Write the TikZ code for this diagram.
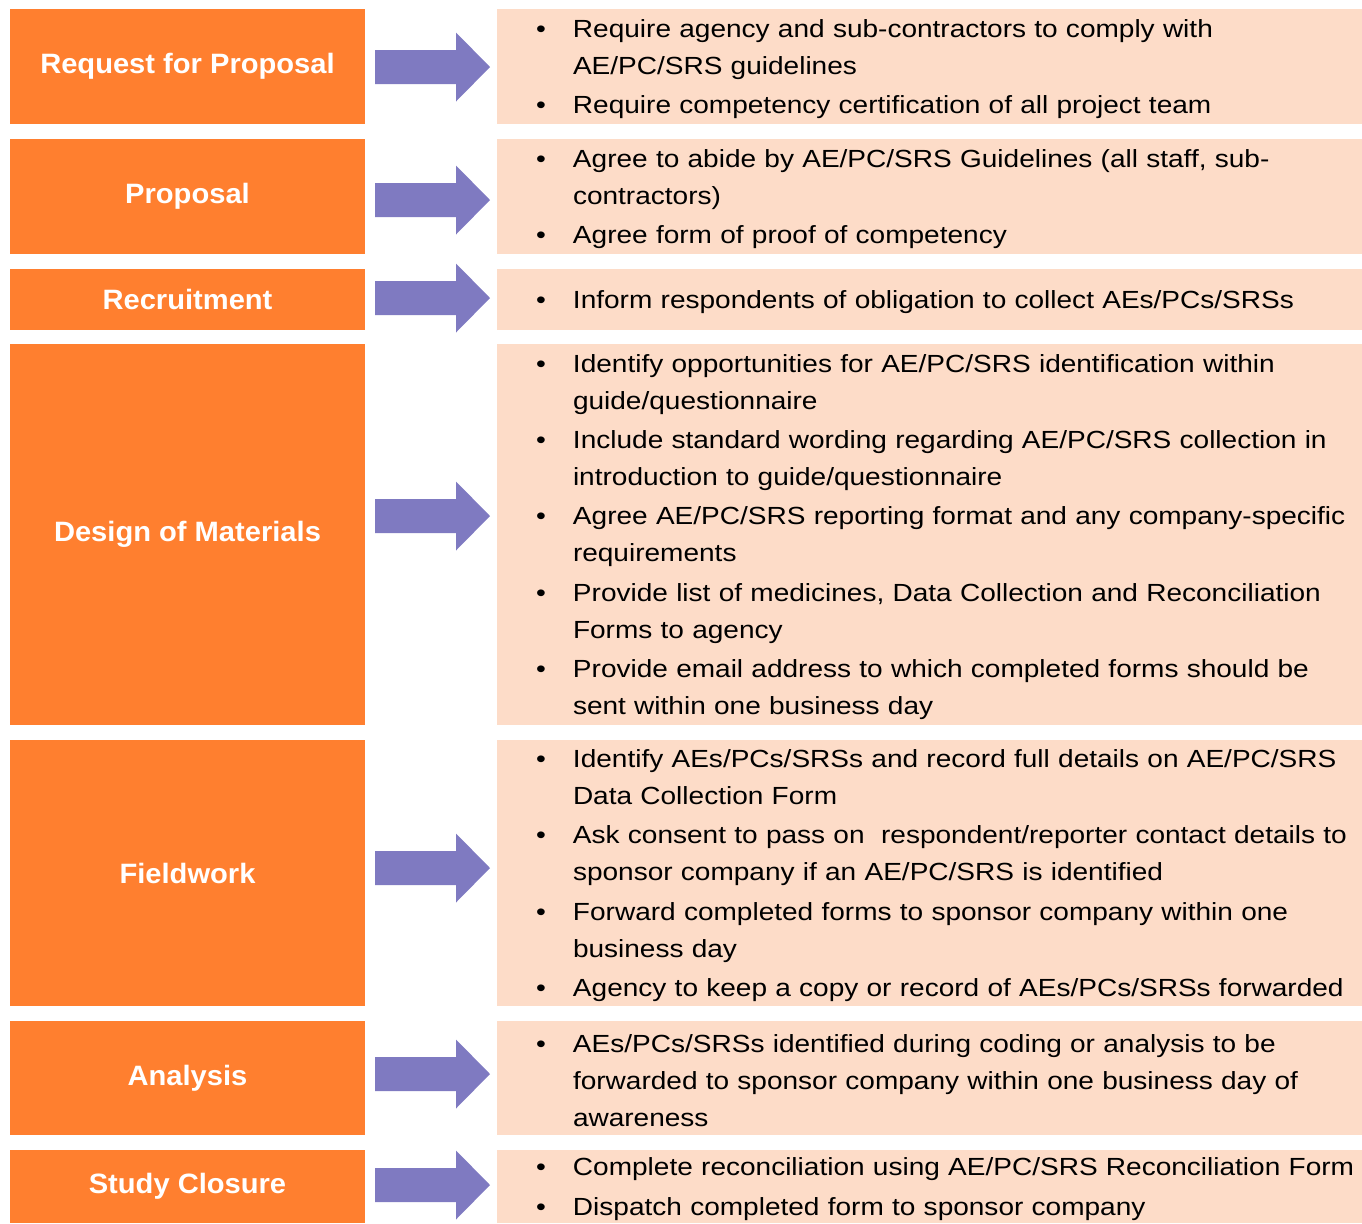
\documentclass[tikz,border=0pt]{standalone}
\usepackage{fontspec}
\setmainfont{Liberation Sans}
\newfontfamily\notefont{Liberation Sans}[FakeStretch=1.13]
\newfontfamily\stagefont{Liberation Sans}[FakeStretch=1.04]
\usetikzlibrary{positioning}
\definecolor{stageorange}{HTML}{FF7F2F}
\definecolor{notepeach}{HTML}{FDDCC8}
\definecolor{arrowviolet}{HTML}{7F7AC1}
\newcommand{\firstbul}{\noindent\hangindent=18.5pt\hangafter=1\makebox[18.5pt][l]{\textbullet}}
\newcommand{\bul}{\par\firstbul}

\begin{document}
\begin{tikzpicture}[
    x=0.5pt, y=-0.5pt,
    stagebox/.style={fill=stageorange, minimum width=177.5pt, inner sep=0pt, text=white,
      font=\stagefont\bfseries\fontsize{14}{17}\selectfont},
    notebox/.style={fill=notepeach, minimum width=432.5pt, inner sep=0pt},
    notetext/.style={inner sep=0pt, text width=412pt, align=left, yshift=-1.2pt,
      font=\notefont\fontsize{12.4}{18.5}\selectfont,
      execute at begin node={\setlength{\parskip}{1.2pt}}},
    blockarrow/.pic={
      \fill[arrowviolet] (-57.5,-17) -- (23.5,-17) -- (23.5,-34.5) -- (57.5,0)
        -- (23.5,34.5) -- (23.5,17) -- (-57.5,17) -- cycle;
    }
]

\useasboundingbox (0,0) rectangle (1362,1223);

% Stages and their note panels
\foreach \n/\y/\h/\lab in {
    1/66.5/57.5/{Request for Proposal},
    2/196.5/57.5/{Proposal},
    3/299.5/30.5/{Recruitment},
    4/534.5/190.5/{Design of Materials},
    5/873/133/{Fieldwork},
    6/1078/57/{Analysis},
    7/1186.5/36.5/{Study Closure}} {
  \node[stagebox, minimum height=\h pt] (s\n) at (187.5,\y) {\lab};
  \node[notebox, minimum height=\h pt] (p\n) at (929.5,\y) {};
}

% Block arrows
\foreach \y in {67,200,298,516,868,1074,1185}
  \pic at (432.5,\y) {blockarrow};

% Notes
\node[notetext, right=19.5pt of p1.west] (t1) {%
  \firstbul Require agency and sub-contractors to comply with\newline AE/PC/SRS guidelines
  \bul Require competency certification of all project team\par};

\node[notetext, right=19.5pt of p2.west] (t2) {%
  \firstbul Agree to abide by AE/PC/SRS Guidelines (all staff, sub-\newline contractors)
  \bul Agree form of proof of competency\par};

\node[notetext, right=19.5pt of p3.west] (t3) {%
  \firstbul Inform respondents of obligation to collect AEs/PCs/SRSs\par};

\node[notetext, right=19.5pt of p4.west] (t4) {%
  \firstbul Identify opportunities for AE/PC/SRS identification within\newline guide/questionnaire
  \bul Include standard wording regarding AE/PC/SRS collection in\newline introduction to guide/questionnaire
  \bul Agree AE/PC/SRS reporting format and any company-specific\newline requirements
  \bul Provide list of medicines, Data Collection and Reconciliation\newline Forms to agency
  \bul Provide email address to which completed forms should be\newline sent within one business day\par};

\node[notetext, right=19.5pt of p5.west] (t5) {%
  \firstbul Identify AEs/PCs/SRSs and record full details on AE/PC/SRS\newline Data Collection Form
  \bul Ask consent to pass on~ respondent/reporter contact details to\newline sponsor company if an AE/PC/SRS is identified
  \bul Forward completed forms to sponsor company within one\newline business day
  \bul Agency to keep a copy or record of AEs/PCs/SRSs forwarded\par};

\node[notetext, right=19.5pt of p6.west] (t6) {%
  \firstbul AEs/PCs/SRSs identified during coding or analysis to be\newline forwarded to sponsor company within one business day of\newline awareness\par};

\node[notetext, right=19.5pt of p7.west] (t7) {%
  \firstbul Complete reconciliation using AE/PC/SRS Reconciliation Form
  \bul Dispatch completed form to sponsor company\par};

\end{tikzpicture}
\end{document}
